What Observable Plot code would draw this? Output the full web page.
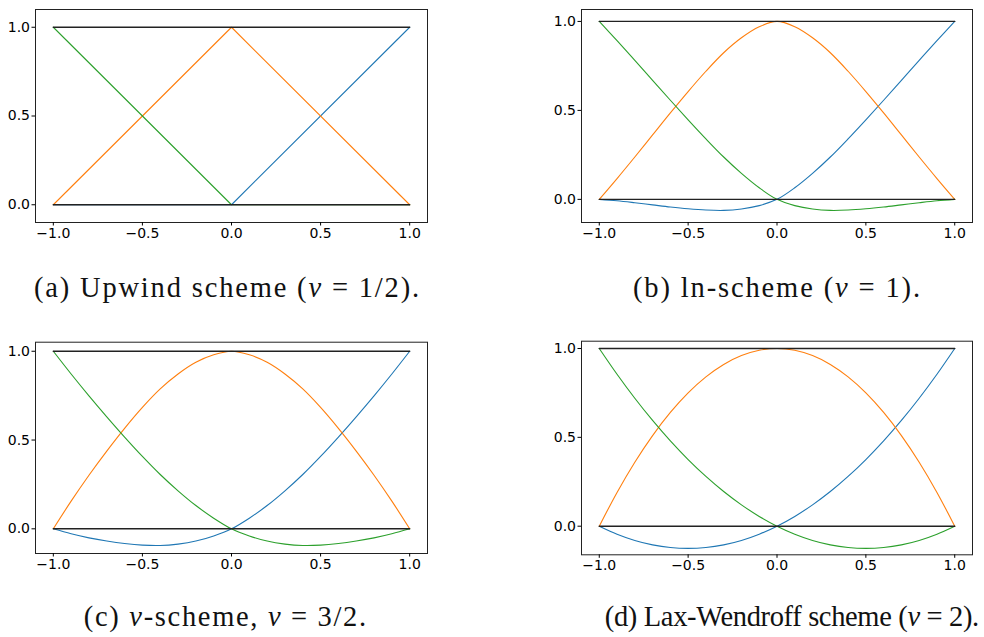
<!DOCTYPE html>
<html><head><meta charset="utf-8">
<script src="https://cdn.jsdelivr.net/npm/d3@7"></script>
<script src="https://cdn.jsdelivr.net/npm/@observablehq/plot@0.6"></script>
<style>
body{margin:0;background:#fff;}
#root{position:relative;width:984px;height:637px;overflow:hidden;background:#fff;}
.panel{position:absolute;}
.cap{position:absolute;white-space:nowrap;font-family:"Liberation Serif",serif;font-size:28.5px;line-height:36px;color:#111;}
</style></head><body><div id="root"></div>
<script>
// ---- data ----
const xTicks = [-1, -0.5, 0, 0.5, 1];
const yTicks = [0, 0.5, 1];
const captions = [
  "(a) Upwind scheme (<i>ν</i>&nbsp;=&nbsp;1/2).",
  "(b) ln-scheme (<i>ν</i>&nbsp;=&nbsp;1).",
  "(c) <i>ν</i>-scheme, <i>ν</i>&nbsp;=&nbsp;3/2.",
  "(d) Lax-Wendroff scheme (<i>ν</i>&nbsp;=&nbsp;2)."
];
const xsA = [-1, 0, 1];
const blueA = [0, 0, 1];
const orangeA = [0, 1, 0];
const greenA = [1, 0, 0];

const xs = [-1,-0.9,-0.8,-0.7,-0.6,-0.5,-0.4,-0.3,-0.2,-0.1,0,0.1,0.2,0.3,0.4,0.5,0.6,0.7,0.8,0.9,1];
const blueB = [0,-0.008,-0.019,-0.031,-0.043,-0.053,-0.060,-0.062,-0.054,-0.035,0,0.065,0.146,0.238,0.340,0.447,0.557,0.669,0.781,0.892,1];
const orangeB = [0,0.117,0.238,0.362,0.486,0.606,0.720,0.824,0.908,0.970,1,0.970,0.908,0.824,0.720,0.606,0.486,0.362,0.238,0.117,0];
const greenB = [1,0.892,0.781,0.669,0.557,0.447,0.340,0.238,0.146,0.065,0,-0.035,-0.054,-0.062,-0.060,-0.053,-0.043,-0.031,-0.019,-0.008,0];

const blueC = [0,-0.028,-0.051,-0.069,-0.083,-0.092,-0.094,-0.086,-0.069,-0.040,0,0.060,0.131,0.214,0.306,0.408,0.517,0.631,0.749,0.872,1];
const orangeC = [0,0.156,0.302,0.438,0.566,0.684,0.788,0.872,0.938,0.980,1,0.980,0.938,0.872,0.788,0.684,0.566,0.438,0.302,0.156,0];
const greenC = [1,0.872,0.749,0.631,0.517,0.408,0.306,0.214,0.131,0.060,0,-0.040,-0.069,-0.086,-0.094,-0.092,-0.083,-0.069,-0.051,-0.028,0];

const blueD = [0,-0.045,-0.080,-0.105,-0.120,-0.125,-0.120,-0.105,-0.080,-0.045,0,0.055,0.120,0.195,0.280,0.375,0.480,0.595,0.720,0.855,1];
const orangeD = [0,0.19,0.36,0.51,0.64,0.75,0.84,0.91,0.96,0.99,1,0.99,0.96,0.91,0.84,0.75,0.64,0.51,0.36,0.19,0];
const greenD = [1,0.855,0.720,0.595,0.480,0.375,0.280,0.195,0.120,0.055,0,-0.045,-0.080,-0.105,-0.120,-0.125,-0.120,-0.105,-0.080,-0.045,0];

const refX = [-1, 1];
const oneLine = [1, 1];
const zeroLine = [0, 0];

// ---- layout ----
const panels = [
  {x: xsA, b: blueA, o: orangeA, g: greenA, curve: "linear", left: 0, top: 0, mL: 35, mR: 65, mT: 9, mB: 28, yd: [-0.1, 1.1], cap: [33, 420, 288]},
  {x: xs, b: blueB, o: orangeB, g: greenB, curve: "catmull-rom", left: 492, top: 0, mL: 89, mR: 12, mT: 9, mB: 28, yd: [-0.13, 1.067], cap: [632, 921, 288]},
  {x: xs, b: blueC, o: orangeC, g: greenC, curve: "catmull-rom", left: 0, top: 330, mL: 35, mR: 65, mT: 11.7, mB: 27, yd: [-0.139, 1.051], cap: [83, 367, 617]},
  {x: xs, b: blueD, o: orangeD, g: greenD, curve: "catmull-rom", left: 492, top: 330, mL: 89, mR: 12, mT: 10.7, mB: 25.7, yd: [-0.161, 1.041], cap: [605, 979, 617]}
];

const root = document.getElementById("root");
const fmt = d3.format(".1f");
const pts = (xv, yv) => xv.map((x, i) => ({x, y: yv[i]}));

panels.forEach((p, k) => {
  const chart = Plot.plot({
    width: 492, height: 250,
    marginLeft: p.mL, marginRight: p.mR, marginTop: p.mT, marginBottom: p.mB,
    x: {domain: [-1.1, 1.1]},
    y: {domain: p.yd},
    style: {fontFamily: "DejaVu Sans", fontSize: "14px", color: "#000", background: "transparent"},
    marks: [
      Plot.line(pts(p.x, p.b), {x: "x", y: "y", stroke: "#1f77b4", strokeWidth: 1.1, curve: p.curve}),
      Plot.line(pts(p.x, p.o), {x: "x", y: "y", stroke: "#ff7f0e", strokeWidth: 1.1, curve: p.curve}),
      Plot.line(pts(p.x, p.g), {x: "x", y: "y", stroke: "#2ca02c", strokeWidth: 1.1, curve: p.curve}),
      Plot.line(pts(refX, oneLine), {x: "x", y: "y", stroke: "#222", strokeWidth: 1.4}),
      Plot.line(pts(refX, zeroLine), {x: "x", y: "y", stroke: "#222", strokeWidth: 1.4}),
      Plot.frame({stroke: "#222", strokeWidth: 1}),
      Plot.axisX({ticks: xTicks, tickFormat: fmt, tickSize: 3.5, tickPadding: 2, label: null, fontSize: 14}),
      Plot.axisY({ticks: yTicks, tickFormat: fmt, tickSize: 3.5, tickPadding: 2, label: null, fontSize: 14})
    ]
  });
  chart.classList.add("panel");
  chart.style.left = p.left + "px";
  chart.style.top = p.top + "px";
  root.appendChild(chart);

  // caption: fit its width to the span
  const c = document.createElement("span");
  c.className = "cap";
  c.innerHTML = captions[k];
  root.appendChild(c);
  const target = p.cap[1] - p.cap[0];
  const w0 = c.getBoundingClientRect().width;
  const n = c.textContent.length;
  const ls = (target - w0) / n;
  c.style.letterSpacing = ls + "px";
  const w1 = c.getBoundingClientRect().width;
  c.style.left = (p.cap[0] + (target - w1) / 2 + ls / 2) + "px";
  c.style.top = (p.cap[2] - 18) + "px";
});
</script>
</body></html>
